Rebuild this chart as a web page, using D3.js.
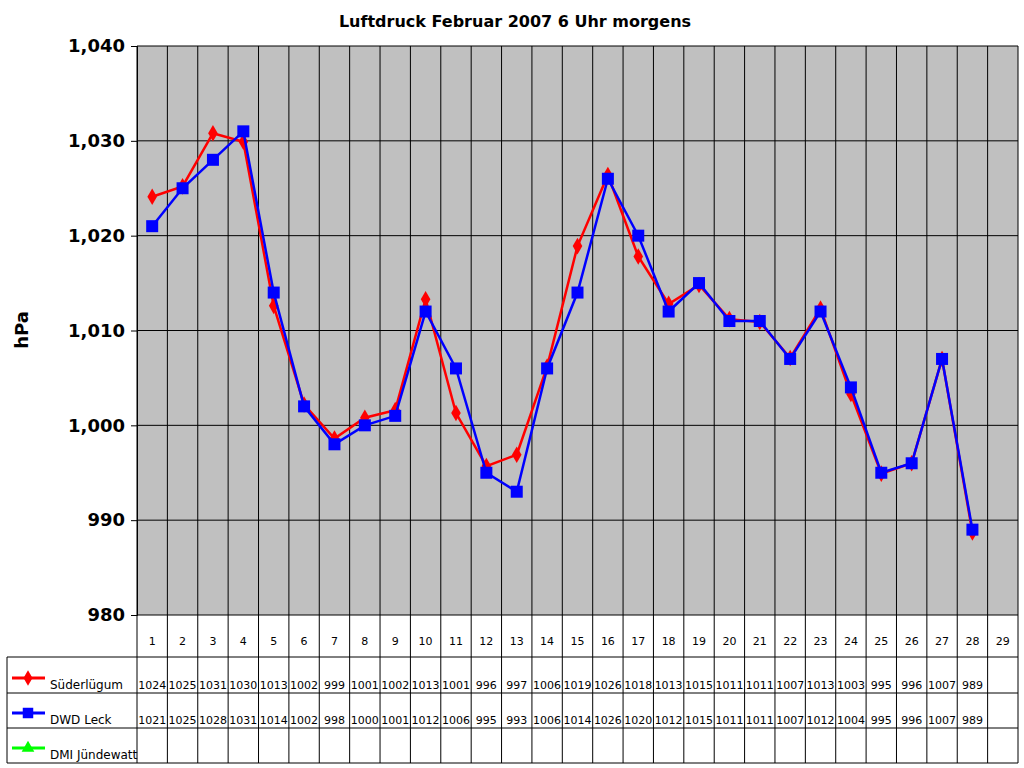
<!DOCTYPE html><html><head><meta charset="utf-8"><script src="https://cdn.jsdelivr.net/npm/d3@7"></script>
<style>body{margin:0;background:#fff}text{font-family:Tahoma,"DejaVu Sans",sans-serif}</style></head><body><svg id="c" width="1024" height="768"></svg>
<script>
const days=d3.range(1,30).map(String);
const suederluegum=[1024.1,1025.2,1030.8,1029.9,1012.6,1002.2,998.6,1000.8,1001.6,1013.3,1001.3,995.7,996.9,1006.2,1018.9,1026.4,1017.8,1012.8,1014.8,1011.2,1010.9,1007.1,1012.3,1003.3,994.9,996.0,1007.0,988.7];
const suederLabels=[1024,1025,1031,1030,1013,1002,999,1001,1002,1013,1001,996,997,1006,1019,1026,1018,1013,1015,1011,1011,1007,1013,1003,995,996,1007,989];
const dwdLeck=[1021,1025,1028,1031,1014,1002,998,1000,1001,1012,1006,995,993,1006,1014,1026,1020,1012,1015,1011,1011,1007,1012,1004,995,996,1007,989];
const yTicks=[980,990,1000,1010,1020,1030,1040];
const svg=d3.select("#c");
const L=137,R=1018,T=46,B=615;
const x=d3.scaleBand().domain(days).range([L,R]);
const y=d3.scaleLinear().domain([980,1040]).range([B,T]);
const cx=i=>x(days[i])+x.bandwidth()/2;
svg.append("text").attr("x",515).attr("y",27).attr("text-anchor","middle").attr("font-size",16).attr("font-weight","bold").text("Luftdruck Februar 2007 6 Uhr morgens");
svg.append("rect").attr("x",L).attr("y",T).attr("width",R-L).attr("height",B-T).attr("fill","#c0c0c0");
yTicks.forEach(t=>svg.append("line").attr("x1",L).attr("x2",R).attr("y1",y(t)).attr("y2",y(t)).attr("stroke","#000"));
days.forEach(d=>svg.append("line").attr("x1",x(d)).attr("x2",x(d)).attr("y1",T).attr("y2",763).attr("stroke","#000"));
svg.append("line").attr("x1",R).attr("x2",R).attr("y1",T).attr("y2",763).attr("stroke","#000");
svg.append("g").attr("transform",`translate(${L},0)`).call(d3.axisLeft(y).tickValues(yTicks).tickSize(6).tickPadding(6)).call(g=>{g.select(".domain").attr("stroke","#000");g.selectAll("text").attr("font-size",18).attr("font-weight","bold").attr("font-family","Tahoma,'DejaVu Sans',sans-serif");});
svg.append("text").attr("transform","translate(28,330) rotate(-90)").attr("text-anchor","middle").attr("font-size",18).attr("font-weight","bold").text("hPa");
// table
[657,693,728,763].forEach(yy=>svg.append("line").attr("x1",7).attr("x2",R).attr("y1",yy).attr("y2",yy).attr("stroke","#000"));
svg.append("line").attr("x1",7).attr("x2",7).attr("y1",657).attr("y2",763).attr("stroke","#000");
days.forEach((d,i)=>svg.append("text").attr("x",cx(i)).attr("y",645).attr("text-anchor","middle").attr("font-size",11).text(d));
suederLabels.forEach((v,i)=>svg.append("text").attr("x",cx(i)).attr("y",689).attr("text-anchor","middle").attr("font-size",11).text(v));
dwdLeck.forEach((v,i)=>svg.append("text").attr("x",cx(i)).attr("y",724).attr("text-anchor","middle").attr("font-size",11).text(v));
const leg=[["Süderlügum","#ff0000",678,"d"],["DWD Leck","#0000ff",713,"s"],["DMI Jündewatt","#00ff00",748,"t"]];
leg.forEach(([n,c,yy,m],k)=>{svg.append("line").attr("x1",12).attr("x2",45).attr("y1",yy).attr("y2",yy).attr("stroke",c).attr("stroke-width",3);
 const sym=m=="d"?d3.symbolDiamond:m=="s"?d3.symbolSquare:d3.symbolTriangle;
 svg.append("path").attr("d",d3.symbol(sym,m=="s"?110:70)()).attr("transform",`translate(28,${yy})`).attr("fill",c);
 svg.append("text").attr("x",50).attr("y",yy+11).attr("font-size",12).text(n);});
const line=d3.line().x((d,i)=>cx(i)).y(d=>y(d));
svg.append("path").datum(suederluegum).attr("d",line).attr("fill","none").attr("stroke","#ff0000").attr("stroke-width",2.5);
svg.selectAll(".sd").data(suederluegum).join("path").attr("d",d3.symbol(d3.symbolDiamond,80)()).attr("transform",(d,i)=>`translate(${cx(i)},${y(d)})`).attr("fill","#ff0000");
svg.append("path").datum(dwdLeck).attr("d",line).attr("fill","none").attr("stroke","#0000ff").attr("stroke-width",2.5);
svg.selectAll(".dw").data(dwdLeck).join("rect").attr("x",(d,i)=>cx(i)-6).attr("y",d=>y(d)-6).attr("width",12).attr("height",12).attr("fill","#0000ff");
</script></body></html>
